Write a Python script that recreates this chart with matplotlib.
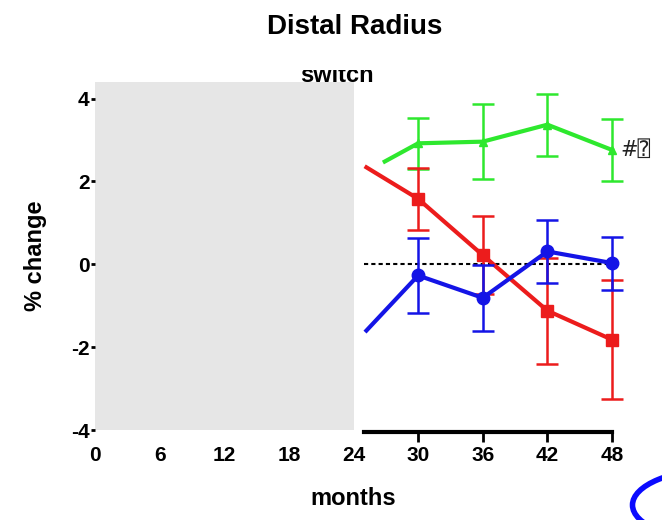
import numpy as np
import matplotlib
matplotlib.use('Agg')
import matplotlib.pyplot as plt
from matplotlib.patches import Rectangle, Ellipse
from matplotlib.transforms import Bbox

plt.rcParams['font.family'] = ['Liberation Sans', 'DejaVu Sans', 'DejaVu Sans Mono']
plt.rcParams['font.weight'] = 'bold'
plt.rcParams['axes.unicode_minus'] = False

# data
months = [30, 36, 42, 48]
xticks = [0, 6, 12, 18, 24, 30, 36, 42, 48]
yticks = [-4, -2, 0, 2, 4]

green_start = [26.9, 2.48]
green_mean = [2.92, 2.96, 3.37, 2.76]
green_err = [0.62, 0.9, 0.75, 0.75]

red_start = [25.2, 2.34]
red_mean = [1.58, 0.22, -1.12, -1.82]
red_err = [0.75, 0.94, 1.28, 1.43]

blue_start = [25.2, -1.6]
blue_mean = [-0.27, -0.81, 0.31, 0.03]
blue_err = [0.9, 0.8, 0.77, 0.64]

green = '#2ee82e'
red = '#ec1c1c'
blue = '#1414e6'

fig = plt.figure(figsize=(6.62, 5.2), dpi=100)
ax = fig.add_axes([95/662, (520-430)/520, 517/662, (430-82)/520])
ax.set_xlim(0, 48)
ax.set_ylim(-4, 4.4)

# shaded first phase
ax.add_patch(Rectangle((0, -4), 24, 8.4, facecolor='#e6e6e6', edgecolor='none', zorder=0))

ax.plot([25, 48], [0, 0], ls=(0, (2, 1.5)), color='black', lw=1.5, zorder=1)

series = [
    (green_start, green_mean, green_err, green, '^', 6),
    (red_start, red_mean, red_err, red, 's', 8),
    (blue_start, blue_mean, blue_err, blue, 'o', 9),
]
for start, mean, err, col, mk, ms in series:
    ax.plot([start[0]] + months, [start[1]] + mean, color=col, lw=3, zorder=3,
            clip_on=False)
    eb = ax.errorbar(months, mean, yerr=err, fmt=mk, color=col, ms=ms, ecolor=col,
                     elinewidth=1.8, capsize=8, capthick=1.8, zorder=3)
    arts = [eb.lines[0]] + list(eb.lines[1]) + list(eb.lines[2])
    for art in arts:
        if art is not None:
            art.set_clip_on(False)

ax.text(48.8, green_mean[-1], '#\u2370', fontsize=15, va='center', ha='left',
        color='#222222', fontweight='normal',
        family=['DejaVu Sans', 'DejaVu Sans Mono', 'Noto Sans'])

for s in ['top', 'right', 'left']:
    ax.spines[s].set_visible(False)
ax.spines['bottom'].set_bounds(25, 48)
ax.spines['bottom'].set_linewidth(3)
ax.spines['bottom'].set_position(('data', -4.05))

ax.set_xticks(xticks)
ax.set_yticks(yticks)
ax.tick_params(axis='x', length=7, width=2, labelsize=15, pad=3)
ax.tick_params(axis='y', length=3, width=2, labelsize=15, pad=1)
for t in ax.xaxis.get_major_ticks()[:5]:
    t.tick1line.set_visible(False)
ax.set_xlabel('months', fontsize=17, fontweight='bold', labelpad=16)
ax.set_ylabel('% change', fontsize=17, fontweight='bold', labelpad=17)

fig.text(355/662, 1 - 27/520, 'Distal Radius', fontsize=20, fontweight='bold',
         ha='center', va='center')
sw = fig.text(337/662, 1 - 82/520, 'switch', fontsize=17, fontweight='bold',
              ha='center', va='baseline')
sw.set_clip_on(True)
sw.set_clip_box(Bbox([[0, 0], [662, 520 - 70]]))

# annotation ellipse in the corner
fig.patches.append(Ellipse((720/662, 1 - 505/520), 175/662, 72/520,
                           transform=fig.transFigure, fill=False,
                           edgecolor='#0a0aff', lw=4))

fig.savefig('out.png', dpi=100)
